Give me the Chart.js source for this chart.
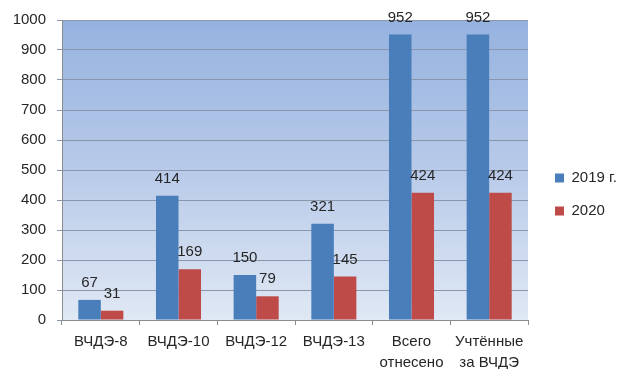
<!DOCTYPE html>
<html>
<head>
<meta charset="utf-8">
<script src="https://cdn.jsdelivr.net/npm/chart.js@4"></script>
<style>
  html, body { margin: 0; padding: 0; background: #ffffff; }
  #wrap { width: 622px; height: 369px; position: relative; }
</style>
</head>
<body>
<div id="wrap"><canvas id="chart" width="622" height="369"></canvas></div>
<script>
// Categories (depots and totals)
const categories = [
  "ВЧДЭ-8",
  "ВЧДЭ-10",
  "ВЧДЭ-12",
  "ВЧДЭ-13",
  ["Всего", "отнесено"],
  ["Учтённые", "за ВЧДЭ"]
];

// Series values
const values2019 = [67, 414, 150, 321, 952, 952];
const values2020 = [31, 169, 79, 145, 424, 424];

// Series names
const seriesNames = ["2019 г.", "2020"];

// Y axis ticks
const yMin = 0;
const yMax = 1000;
const yStep = 100;

const FONT = "'Liberation Sans', Arial, sans-serif";

// Plot area gradient fill
const plotBackground = {
  id: 'plotBackground',
  beforeDraw(chart) {
    const { ctx, chartArea: a } = chart;
    const g = ctx.createLinearGradient(0, a.top, 0, a.bottom);
    g.addColorStop(0, '#95b2df');
    g.addColorStop(0.5, '#b8cae9');
    g.addColorStop(1, '#dfe8f4');
    ctx.save();
    ctx.fillStyle = g;
    ctx.fillRect(a.left, a.top, a.right - a.left, a.bottom - a.top);
    ctx.restore();
  }
};

// Fixed legend column width and position
const legendPlacement = {
  id: 'legendPlacement',
  beforeLayout(chart) {
    const lg = chart.legend;
    if (lg && !lg._fixedWidth) {
      const fit = lg.fit;
      lg.fit = function () { fit.call(this); this.width = 94; };
      lg._fixedWidth = true;
    }
  },
  afterLayout(chart) {
    const lg = chart.legend;
    if (lg) {
      lg.left += 9; lg.right += 9;
      lg.top += 0; lg.bottom += 0;
    }
  }
};

// Value labels above each bar
const valueLabels = {
  id: 'valueLabels',
  afterDatasetsDraw(chart) {
    const { ctx } = chart;
    ctx.save();
    ctx.font = '15px ' + FONT;
    ctx.fillStyle = '#262626';
    ctx.textAlign = 'center';
    ctx.textBaseline = 'middle';
    chart.data.datasets.forEach((ds, i) => {
      const meta = chart.getDatasetMeta(i);
      meta.data.forEach((bar, j) => {
        ctx.fillText(String(ds.data[j]), bar.x, bar.y - 17);
      });
    });
    ctx.restore();
  }
};

new Chart(document.getElementById('chart'), {
  type: 'bar',
  data: {
    labels: categories,
    datasets: [
      {
        label: seriesNames[0],
        data: values2019,
        backgroundColor: '#4a7ebb',
        borderWidth: 0,
        categoryPercentage: 0.58,
        barPercentage: 1.0
      },
      {
        label: seriesNames[1],
        data: values2020,
        backgroundColor: '#be4b48',
        borderWidth: 0,
        categoryPercentage: 0.58,
        barPercentage: 1.0
      }
    ]
  },
  options: {
    responsive: false,
    animation: false,
    devicePixelRatio: 1,
    layout: { padding: { top: 20, left: 0, right: 0, bottom: 0 } },
    plugins: {
      legend: {
        position: 'right',
        align: 'center',
        labels: {
          boxWidth: 9,
          boxHeight: 9,
          padding: 18,
          color: '#262626',
          font: { family: FONT, size: 15 }
        }
      },
      tooltip: { enabled: false }
    },
    scales: {
      x: {
        grid: {
          display: true,
          drawOnChartArea: false,
          drawTicks: true,
          tickLength: 5,
          color: '#8c8c8c',
          offset: true
        },
        border: { display: true, color: '#8c8c8c' },
        ticks: {
          color: '#262626',
          padding: 6,
          maxRotation: 0,
          autoSkip: false,
          font: { family: FONT, size: 15, lineHeight: 1.4 }
        },
        afterFit(scale) { scale.height = 49; }
      },
      y: {
        min: yMin,
        max: yMax,
        grid: {
          color: '#8a96ac',
          tickLength: 5,
          drawTicks: true
        },
        border: { display: true, color: '#8c8c8c' },
        ticks: {
          stepSize: yStep,
          color: '#262626',
          padding: 11,
          font: { family: FONT, size: 15 },
          callback: (v) => String(v)
        },
        afterFit(scale) { scale.width = 62; }
      }
    }
  },
  plugins: [plotBackground, legendPlacement, valueLabels]
});
</script>
</body>
</html>
